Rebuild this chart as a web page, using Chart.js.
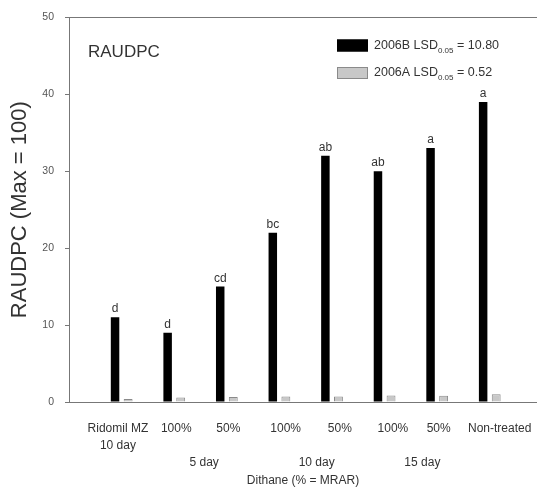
<!DOCTYPE html>
<html>
<head>
<meta charset="utf-8">
<script src="https://cdn.jsdelivr.net/npm/chart.js@4.4.1/dist/chart.umd.min.js"></script>
<style>
  html, body { margin: 0; padding: 0; background: #fff; overflow: hidden; }
  #wrap { width: 537px; height: 496px; }
</style>
</head>
<body>
<div id="wrap"><canvas id="c" width="537" height="496"></canvas></div>
<script>
// ---- data ----
const categories = [['Ridomil MZ', '10 day'], '100%', '50%', '100%', '50%', '100%', '50%', 'Non-treated'];
const categoryPos = [1, 2, 3, 4, 5, 6, 7, 8];
const labelPos = [0.93, 2.04, 3.03, 4.12, 5.15, 6.16, 7.03, 8.19];
const groupLabels = ['5 day', '10 day', '15 day'];
const groupPos = [2.57, 4.71, 6.72];
const seriesNames = ['2006B', '2006A'];
const lsdValues = ['10.80', '0.52'];
const values2006B = [11, 9, 15, 22, 32, 30, 33, 39];
const values2006A = [0.4, 0.6, 0.65, 0.7, 0.7, 0.85, 0.8, 1.0];
const letters = ['d', 'd', 'cd', 'bc', 'ab', 'ab', 'a', 'a'];
const yTicks = [0, 10, 20, 30, 40, 50];
const panelTitle = 'RAUDPC';
const yTitle = 'RAUDPC (Max = 100)';
const xTitle = 'Dithane (% = MRAR)';

const FONT = "'Liberation Sans', Arial, sans-serif";
const TEXT = '#333';
const AXIS = '#777';

const toPoints = vals => vals.map((v, i) => ({ x: categoryPos[i], y: v }));
const noPad = s => { s.paddingLeft = 0; s.paddingRight = 0; };

const extrasPlugin = {
  id: 'extras',
  afterDatasetsDraw(chart) {
    const ctx = chart.ctx;
    ctx.save();
    // significance letters above black bars
    ctx.fillStyle = TEXT;
    ctx.font = '12px ' + FONT;
    ctx.textAlign = 'center';
    ctx.textBaseline = 'alphabetic';
    chart.getDatasetMeta(0).data.forEach((el, i) => {
      ctx.fillText(letters[i], el.x, el.y - 5);
    });
    // panel title
    ctx.textAlign = 'left';
    ctx.textBaseline = 'middle';
    ctx.font = '17px ' + FONT;
    ctx.fillText(panelTitle, 88, 52);
    // legend
    const colors = chart.data.datasets.map(d => [d.backgroundColor, d.borderColor]);
    const rows = [45.5, 73];
    rows.forEach((cy, i) => {
      ctx.fillStyle = colors[i][0];
      ctx.fillRect(337, cy - 6, 31, 12);
      ctx.strokeStyle = colors[i][1];
      ctx.lineWidth = 1;
      ctx.strokeRect(337.5, cy - 5.5, 30, 11);
      ctx.fillStyle = TEXT;
      ctx.textBaseline = 'middle';
      let x = 374;
      ctx.font = '12.5px ' + FONT;
      const t1 = seriesNames[i] + ' LSD';
      ctx.fillText(t1, x, cy);
      x += ctx.measureText(t1).width;
      ctx.font = '8px ' + FONT;
      ctx.fillText('0.05', x, cy + 5);
      x += ctx.measureText('0.05').width;
      ctx.font = '12.5px ' + FONT;
      ctx.fillText(' = ' + lsdValues[i], x, cy);
    });
    ctx.restore();
  }
};

new Chart(document.getElementById('c'), {
  type: 'bar',
  data: {
    datasets: [
      {
        label: seriesNames[0] + ' LSD0.05 = ' + lsdValues[0],
        data: toPoints(values2006B),
        backgroundColor: '#000000',
        borderColor: '#000000',
        borderWidth: 0,
        categoryPercentage: 0.571,
        barPercentage: 0.65,
        xAxisID: 'x', yAxisID: 'y'
      },
      {
        label: seriesNames[1] + ' LSD0.05 = ' + lsdValues[1],
        data: toPoints(values2006A),
        backgroundColor: '#c8c8c8',
        borderColor: '#8a8a8a',
        borderWidth: 1,
        categoryPercentage: 0.571,
        barPercentage: 0.68,
        xAxisID: 'x', yAxisID: 'y'
      }
    ]
  },
  options: {
    responsive: false,
    animation: false,
    events: [],
    layout: { padding: { top: 17, right: 0, left: 0, bottom: 0 } },
    plugins: { legend: { display: false }, tooltip: { enabled: false } },
    scales: {
      x: {
        type: 'linear', position: 'bottom', min: 0, max: 8.9, offset: false,
        grid: { display: false, drawTicks: false },
        border: { display: true, color: AXIS, width: 1 },
        afterBuildTicks: s => { s.ticks = labelPos.map(v => ({ value: v })); },
        ticks: {
          autoSkip: false, maxRotation: 0, padding: 18,
          color: TEXT, font: { family: FONT, size: 12, lineHeight: 1.4 },
          callback: (v, i) => categories[i]
        },
        afterFit: s => { s.height = 52; noPad(s); }
      },
      xg: {
        type: 'linear', position: 'bottom', min: 0, max: 8.9, offset: false,
        grid: { display: false, drawTicks: false },
        border: { display: false },
        afterBuildTicks: s => { s.ticks = groupPos.map(v => ({ value: v })); },
        ticks: {
          autoSkip: false, maxRotation: 0, padding: 1,
          color: TEXT, font: { family: FONT, size: 12 },
          callback: (v, i) => groupLabels[i]
        },
        title: { display: true, text: xTitle, color: TEXT, font: { family: FONT, size: 12 }, padding: { top: 4, bottom: 8 } },
        afterFit: s => { s.height = 42; noPad(s); }
      },
      xt: {
        type: 'linear', position: 'top', min: 0, max: 8.9, offset: false,
        grid: { display: false, drawTicks: false },
        border: { display: true, color: AXIS, width: 1 },
        ticks: { display: false },
        afterFit: s => { s.height = 0; noPad(s); }
      },
      y: {
        type: 'linear', position: 'left', min: 0, max: 50,
        afterBuildTicks: s => { s.ticks = yTicks.map(v => ({ value: v })); },
        grid: { drawOnChartArea: false, drawTicks: true, tickLength: 4, tickColor: AXIS },
        border: { display: true, color: AXIS, width: 1 },
        ticks: { color: '#555', font: { family: FONT, size: 10.5 }, padding: 11 },
        title: { display: true, text: yTitle, color: TEXT, font: { family: FONT, size: 22 }, padding: { top: 7, bottom: 0 } },
        afterFit: s => { s.width = 69; }
      }
    }
  },
  plugins: [extrasPlugin]
});
</script>
</body>
</html>
